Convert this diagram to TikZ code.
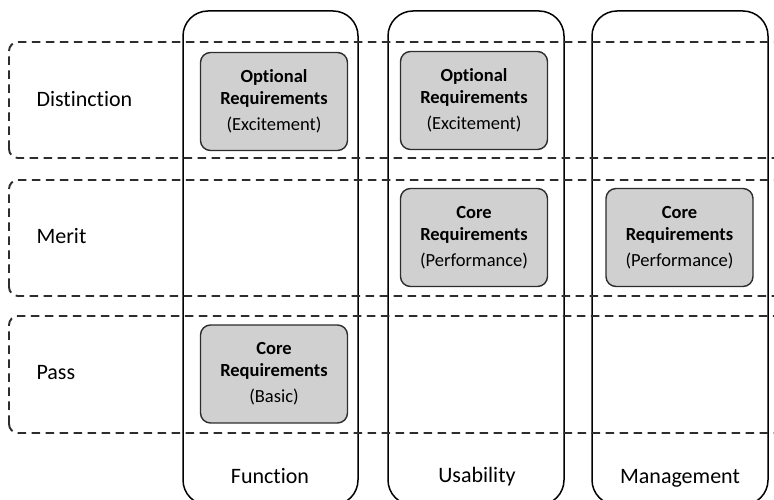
\documentclass[tikz,border=0pt]{standalone}
\usepackage{fontspec}
\setmainfont{Carlito}[Ligatures={NoCommon}]
\usetikzlibrary{positioning}
\definecolor{boxgray}{RGB}{208,208,208}
\definecolor{linegray}{RGB}{45,45,45}

\begin{document}
\begin{tikzpicture}[x=1pt, y=1pt,
    lane/.style={draw=black, line width=1.5pt, rounded corners=25pt},
    band/.style={draw=linegray, line width=1.9pt, dash pattern=on 8.5pt off 5.5pt, rounded corners=9pt},
    reqbox/.style={draw=linegray, fill=boxgray, line width=1.4pt, rounded corners=10pt,
        minimum width=147pt, minimum height=98pt, align=center,
        font=\fontsize{18.5}{22}\selectfont},
    rowlabel/.style={anchor=base west, font=\fontsize{22}{26}\selectfont},
    lanelabel/.style={anchor=base, font=\fontsize{22}{26}\selectfont}]

    \useasboundingbox (0,0) rectangle (774,500);
    \clip (0,0) rectangle (774,500);

    % columns
    \draw[lane] (183,-5) rectangle (358,489);
    \draw[lane] (388,-5) rectangle (564,489);
    \draw[lane] (592,-5) rectangle (768,489);

    % grade bands
    \draw[band] (9,342) rectangle (800,458);
    \draw[band] (9,204) rectangle (800,320);
    \draw[band] (9,67) rectangle (800,184);

    \node[rowlabel] (distinction) at (33,393) {Distinction};
    \node[rowlabel] (merit) at (33,256) {Merit};
    \node[rowlabel] (pass) at (33,120) {Pass};

    \node[lanelabel] (function) at (270,16) {Function};
    \node[lanelabel] (usability) at (477,17) {Usability};
    \node[lanelabel] (management) at (680,16) {Management};

    % requirement boxes
    \node[reqbox] (funcopt) at (274,398.5) {\textbf{Optional}\\\textbf{Requirements}\\[4pt](Excitement)};
    \node[reqbox] (usaopt) at (474,399.5) {\textbf{Optional}\\\textbf{Requirements}\\[4pt](Excitement)};
    \node[reqbox] (usacore) at (474,262.5) {\textbf{Core}\\\textbf{Requirements}\\[4pt](Performance)};
    \node[reqbox] (mancore) at (679.5,262.5) {\textbf{Core}\\\textbf{Requirements}\\[4pt](Performance)};
    \node[reqbox] (funccore) at (274,126) {\textbf{Core}\\\textbf{Requirements}\\[4pt](Basic)};
\end{tikzpicture}
\end{document}
